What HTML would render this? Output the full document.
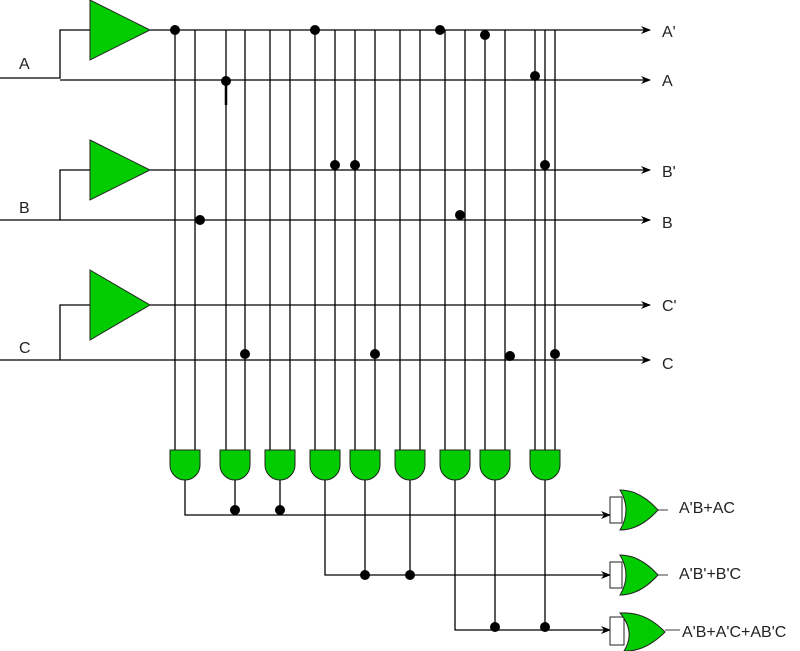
<!DOCTYPE html>
<html><head><meta charset="utf-8"><style>
html,body{margin:0;padding:0;background:#fff;}
svg{display:block;}
text{font-family:"Liberation Sans",sans-serif;font-size:16px;fill:#222;}
</style></head><body>
<svg width="800" height="651" viewBox="0 0 800 651" xmlns="http://www.w3.org/2000/svg">
<defs>
<marker id="ar" markerWidth="10" markerHeight="8" refX="9" refY="4" orient="auto" markerUnits="userSpaceOnUse">
<path d="M0,0 L10,4 L0,8 L3,4 Z" fill="#000"/>
</marker>
</defs>
<g stroke="#000" stroke-width="1.3" fill="none">
<path d="M0,78 H60 V30 H90"/>
<path d="M0,220 H60 V170 H90"/>
<path d="M0,360 H60 V305 H90"/>
<path d="M150,30 H650" marker-end="url(#ar)"/>
<path d="M60,80 H650" marker-end="url(#ar)"/>
<path d="M150,170 H650" marker-end="url(#ar)"/>
<path d="M60,220 H650" marker-end="url(#ar)"/>
<path d="M150,305 H650" marker-end="url(#ar)"/>
<path d="M60,360 H650" marker-end="url(#ar)"/>
<path d="M175,30V450 M195,30V450 M226,30V450 M245,30V450 M270,30V450 M290,30V450 M315,30V450 M335,30V450 M355,30V450 M375,30V450 M400,30V450 M420,30V450 M445,30V450 M465,30V450 M485,30V450 M505,30V450 M535,30V450 M545,30V450 M555,30V450"/>
<path d="M226,80V105" stroke-width="2.5"/>
<path d="M185,480V515H610" marker-end="url(#ar)"/>
<path d="M235,480V510 M280,480V510"/>
<path d="M325,480V575H610" marker-end="url(#ar)"/>
<path d="M365,480V575 M410,480V575"/>
<path d="M455,480V630H610" marker-end="url(#ar)"/>
<path d="M495,480V630 M545,480V630"/>
<path d="M658,510H668 M658,575H668 M665,630H680" stroke="#666"/>
</g>
<g fill="#00cc00" stroke="#222" stroke-width="1">
<path d="M90,0 L150,30 L90,60 Z"/>
<path d="M90,140 L150,170 L90,200 Z"/>
<path d="M90,270 L150,305 L90,340 Z"/>
</g>
<g fill="#00cc00" stroke="#222" stroke-width="1">
<path d="M170,450H200V465A15,15 0 0 1 170,465Z"/>
<path d="M220,450H250V465A15,15 0 0 1 220,465Z"/>
<path d="M265,450H295V465A15,15 0 0 1 265,465Z"/>
<path d="M310,450H340V465A15,15 0 0 1 310,465Z"/>
<path d="M350,450H380V465A15,15 0 0 1 350,465Z"/>
<path d="M395,450H425V465A15,15 0 0 1 395,465Z"/>
<path d="M440,450H470V465A15,15 0 0 1 440,465Z"/>
<path d="M480,450H510V465A15,15 0 0 1 480,465Z"/>
<path d="M530,450H560V465A15,15 0 0 1 530,465Z"/>
</g>
<g stroke="#222" stroke-width="1">
<rect x="610" y="497" width="12" height="26" fill="#fff"/>
<path d="M620,490 Q640,490 658,510 Q640,530 620,530 Q632,510 620,490Z" fill="#00cc00"/>
<rect x="610" y="562" width="12" height="26" fill="#fff"/>
<path d="M620,555 Q640,555 658,575 Q640,595 620,595 Q632,575 620,555Z" fill="#00cc00"/>
<rect x="610" y="617" width="14" height="28" fill="#fff"/>
<path d="M620,613 Q645,611 665,632 Q645,652 624,651 Q636,632 620,613Z" fill="#00cc00"/>
</g>
<g fill="#000">
<circle cx="175" cy="30" r="5"/><circle cx="315" cy="30" r="5"/><circle cx="440" cy="30" r="5"/><circle cx="485" cy="35" r="5"/>
<circle cx="226" cy="81" r="5"/><circle cx="535" cy="76" r="5"/>
<circle cx="335" cy="165" r="5"/><circle cx="355" cy="165" r="5"/><circle cx="545" cy="165" r="5"/>
<circle cx="200" cy="220" r="5"/><circle cx="460" cy="215" r="5"/>
<circle cx="245" cy="354" r="5"/><circle cx="375" cy="354" r="5"/><circle cx="510" cy="356" r="5"/><circle cx="555" cy="354" r="5"/>
<circle cx="235" cy="510" r="5"/><circle cx="280" cy="510" r="5"/>
<circle cx="365" cy="575" r="5"/><circle cx="410" cy="575" r="5"/>
<circle cx="495" cy="627" r="5"/><circle cx="545" cy="627" r="5"/>
</g>
<text x="19" y="69">A</text>
<text x="19" y="213">B</text>
<text x="19" y="353">C</text>
<text x="662" y="37">A'</text>
<text x="662" y="86">A</text>
<text x="662" y="177">B'</text>
<text x="662" y="228">B</text>
<text x="662" y="311">C'</text>
<text x="662" y="369">C</text>
<text x="679" y="513">A'B+AC</text>
<text x="679" y="579">A'B'+B'C</text>
<text x="682" y="637">A'B+A'C+AB'C</text>
</svg>
</body></html>
